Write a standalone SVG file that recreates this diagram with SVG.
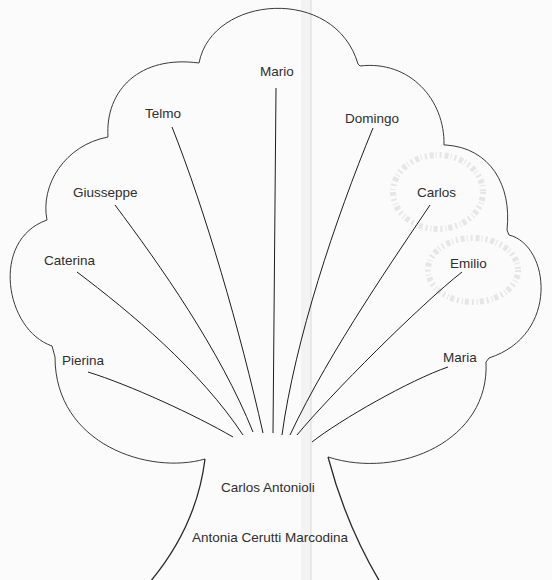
<svg xmlns="http://www.w3.org/2000/svg" width="552" height="580" viewBox="0 0 552 580">
  <style>
    .bg { fill: #fbfbfb; }
    .outline { fill: none; stroke: #3a3a3a; stroke-width: 1; stroke-linejoin: round; }
    .trunk { fill: none; stroke: #2a2a2a; stroke-width: 1.3; }
    .link { fill: none; stroke: #1e1e1e; stroke-width: 1; }
    .ghost { fill: none; stroke: #d8d8d8; stroke-width: 6; stroke-dasharray: 2 3 4 2 1 3; opacity: 0.6; }
    .lbl { font-family: "Liberation Sans", Arial, sans-serif; font-size: 13.5px; fill: #2e2e2e; }
  </style>
  <rect class="bg" x="0" y="0" width="552" height="580"/>
  <!-- scan fold -->
  <rect x="301" y="0" width="10" height="580" fill="#efefef" opacity="0.6"/>
  <line x1="311" y1="0" x2="311" y2="580" stroke="#dadada" stroke-width="1"/>

  <g id="tree-outline">
    <path class="outline" d="M205,459 C150,475 55,445 55,357 L52,346 C5,330 -10,240 47,220 C40,185 65,145 108,137 C105,90 140,55 199,63 C212,-5 335,-15 358,64 L360,66 C410,60 445,100 444,145 L446,145 C490,148 512,185 507,230 L509,235 C550,245 560,335 489,358 L486,362 C490,440 400,480 328,457"/>
    <path class="trunk" d="M205,459 C200,500 185,540 150,582"/>
    <path class="trunk" d="M328,457 C338,495 355,540 380,582"/>
  </g>

  <g id="highlights">
    <ellipse class="ghost" cx="438" cy="192" rx="45" ry="37"/>
    <ellipse class="ghost" cx="473" cy="270" rx="45" ry="32"/>
  </g>

  <g id="connectors">
    <path class="link" d="M276,88 L273,433"/>
    <path class="link" d="M172,127 C205,210 240,330 263,433"/>
    <path class="link" d="M115,205 C160,265 220,350 253,432"/>
    <path class="link" d="M77,272 C130,312 200,370 243,435"/>
    <path class="link" d="M88,372 C130,385 195,415 233,437"/>
    <path class="link" d="M373,128 C335,220 295,340 282,435"/>
    <path class="link" d="M430,205 C400,250 330,350 290,435"/>
    <path class="link" d="M462,272 C420,305 330,395 297,435"/>
    <path class="link" d="M448,367 C410,380 340,420 312,442"/>
  </g>

  <g id="node-mario"><text class="lbl" x="260" y="76">Mario</text></g>
  <g id="node-telmo"><text class="lbl" x="145" y="118">Telmo</text></g>
  <g id="node-giusseppe"><text class="lbl" x="73" y="197">Giusseppe</text></g>
  <g id="node-caterina"><text class="lbl" x="44" y="265">Caterina</text></g>
  <g id="node-pierina"><text class="lbl" x="62" y="365">Pierina</text></g>
  <g id="node-domingo"><text class="lbl" x="345" y="123">Domingo</text></g>
  <g id="node-carlos"><text class="lbl" x="417" y="197">Carlos</text></g>
  <g id="node-emilio"><text class="lbl" x="450" y="268">Emilio</text></g>
  <g id="node-maria"><text class="lbl" x="443" y="362">Maria</text></g>
  <g id="node-carlos-antonioli"><text class="lbl" x="221" y="492">Carlos Antonioli</text></g>
  <g id="node-antonia"><text class="lbl" x="192" y="542">Antonia Cerutti Marcodina</text></g>
</svg>
